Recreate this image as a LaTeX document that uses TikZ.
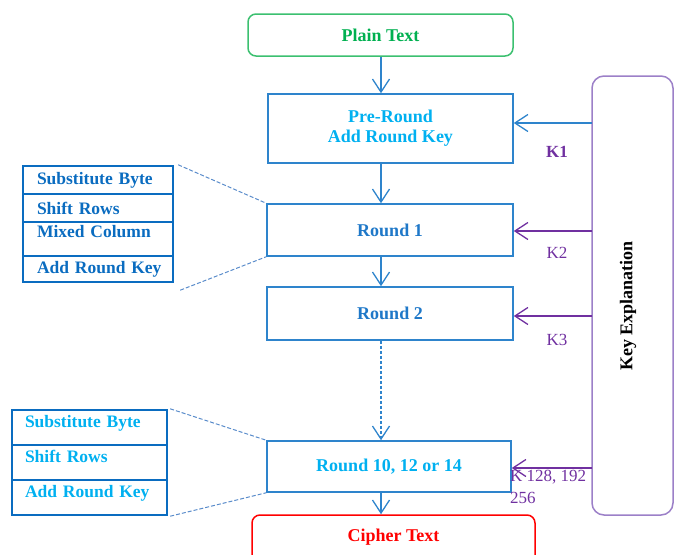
\documentclass[tikz,border=0pt]{standalone}
\usepackage{fontspec}
\setmainfont{Liberation Serif}
\usetikzlibrary{arrows.meta}
\definecolor{boxblue}{HTML}{2E84CC}
\definecolor{rtext}{HTML}{1F78C8}
\definecolor{cyantext}{HTML}{00B0F0}
\definecolor{dkblue}{HTML}{0A6CC0}
\definecolor{grn}{HTML}{00B050}
\definecolor{grnline}{HTML}{3CC070}
\definecolor{purp}{HTML}{7030A0}
\definecolor{keyline}{HTML}{9C80C8}
\definecolor{dashcol}{HTML}{5A8CCB}
\begin{document}
\begin{tikzpicture}[x=1pt,y=-1pt,
  font=\fontsize{18}{19}\selectfont\bfseries,
  mainbox/.style={draw=boxblue,line width=1.5pt,inner sep=0pt},
  termbox/.style={rounded corners=8pt,line width=1.5pt,inner sep=0pt},
  arr/.style={draw=boxblue,line width=1.5pt,-{Straight Barb[length=13pt,width=17pt,line width=1.3pt]}},
  karr/.style={draw=purp,line width=1.5pt,-{Straight Barb[length=13pt,width=17pt,line width=1.3pt]}},
  rowA/.style={draw=dkblue,line width=2.4pt,text=dkblue,text width=122pt,inner xsep=14pt,inner ysep=0pt,align=left,minimum width=150pt,font=\fontsize{17.5}{19}\selectfont\bfseries},
  rowB/.style={draw=dkblue,line width=2.4pt,text=cyantext,text width=129pt,inner xsep=13pt,inner ysep=0pt,align=left,minimum width=155pt,minimum height=35pt,text height=12pt,text depth=13pt,font=\fontsize{17.5}{19}\selectfont\bfseries},
  dsh/.style={draw=dashcol,line width=1pt,dash pattern=on 4pt off 2pt},
  klab/.style={text=purp,font=\fontsize{17}{17}\selectfont}
]
\useasboundingbox (0,0) rectangle (674,554);
\clip (0,0) rectangle (674,554);

% main column
\node[termbox,draw=grnline,text=grn,minimum width=265pt,minimum height=42pt] (plain) at (380.5,35) {Plain Text};
\node[mainbox,text=cyantext,minimum width=245pt,minimum height=69pt,align=center] (pre) at (390.5,128.5) {Pre-Round\\[1pt]Add Round Key};
\node[mainbox,text=rtext,minimum width=246pt,minimum height=52pt] (r1) at (390,230) {Round 1};
\node[mainbox,text=rtext,minimum width=246pt,minimum height=53pt] (r2) at (390,313.5) {Round 2};
\node[mainbox,text=cyantext,minimum width=244pt,minimum height=51pt] (r10) at (389,466.5) {Round 10, 12 or 14};
\node[termbox,draw=red,text=red,minimum width=283pt,minimum height=50pt,text height=12pt,text depth=10pt] (cipher) at (393.5,540) {Cipher Text};

\coordinate (ax) at (381,0);
\draw[arr] (plain.south -| ax) -- (pre.north -| ax);
\draw[arr] (pre.south -| ax) -- (r1.north -| ax);
\draw[arr] (r1.south -| ax) -- (r2.north -| ax);
\draw[arr,dash pattern=on 3pt off 2pt] (r2.south -| ax) -- (r10.north -| ax);
\draw[arr] (r10.south -| ax) -- (cipher.north -| ax);

% key labels (drawn before key box so box covers overflow)
\node[klab,font=\fontsize{17}{17}\selectfont\bfseries] (k1l) at (557,152) {K1};
\node[klab] (k2l) at (557,253) {K2};
\node[klab] (k3l) at (557,340) {K3};
\node[klab,anchor=north west,align=left,inner sep=0pt,font=\fontsize{17}{22}\selectfont] (k4l) at (510,470) {K 128, 192\\256};

% key explanation box
\node[draw=keyline,line width=1.5pt,rounded corners=12pt,fill=white,minimum width=81pt,minimum height=439pt,inner sep=0pt] (key) at (632.5,295.5) {};
\node[rotate=90,text=black] (keyt) at (628,306) {Key Explanation};

\coordinate (k1) at (592,123);
\coordinate (k2) at (592,231);
\coordinate (k3) at (592,316);
\coordinate (k4) at (592,468);
\draw[arr] (k1) -- (k1 -| pre.east);
\draw[karr] (k2) -- (k2 -| r1.east);
\draw[karr] (k3) -- (k3 -| r2.east);
\draw[karr] (k4) -- (k4 -| r10.east);

% left group A
\node[rowA,minimum height=28pt] (a1) at (98,180) {\mbox{Substitute Byte}};
\node[rowA,minimum height=28pt] (a2) at (98,208) {\mbox{Shift Rows}};
\node[rowA,minimum height=34pt,text height=12pt,text depth=16pt] (a3) at (98,239) {\mbox{Mixed Column}};
\node[rowA,minimum height=26pt] (a4) at (98,269) {\mbox{Add Round Key}};

% left group B
\node[rowB] (b1) at (89.5,427.5) {\mbox{Substitute Byte}};
\node[rowB] (b2) at (89.5,462.5) {\mbox{Shift Rows}};
\node[rowB] (b3) at (89.5,497.5) {\mbox{Add Round Key}};

% dashed zoom lines
\draw[dsh] ([xshift=4pt]a1.north east) -- (r1.north west);
\draw[dsh] ([xshift=6pt,yshift=-7pt]a4.south east) -- (r1.south west);
\draw[dsh] ([xshift=2pt]b1.north east) -- (r10.north west);
\draw[dsh] ([xshift=2pt]b3.south east) -- (r10.south west);
\end{tikzpicture}
\end{document}
